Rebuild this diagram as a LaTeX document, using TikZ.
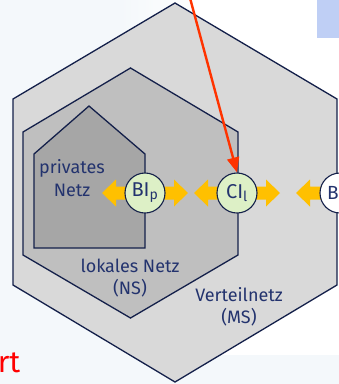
\documentclass[tikz,border=0pt]{standalone}
\usepackage{fontspec}
\setmainfont{Fira Sans}
\usetikzlibrary{arrows.meta}
\definecolor{navy}{HTML}{14204A}
\definecolor{txtblue}{HTML}{23336E}
\definecolor{hexout}{HTML}{D9D9D9}
\definecolor{hexmid}{HTML}{BFBFBF}
\definecolor{housec}{HTML}{A6A6A6}
\definecolor{ygold}{HTML}{FFC000}
\definecolor{lgreen}{HTML}{DDF0C6}
\definecolor{bgblue}{HTML}{F4F8FB}
\definecolor{boxblue}{HTML}{BFCFF5}
\definecolor{redarr}{HTML}{FF3300}
\tikzset{
  zone/.style={draw=navy, line width=1.3pt, line join=miter},
  ifnode/.style={circle, draw=navy, line width=1.1pt, minimum size=40pt, inner sep=0pt, fill=lgreen, font=\fontsize{20}{20}\selectfont, text=txtblue},
  lbl/.style={align=center, text=txtblue, font=\fontsize{18}{22.5}\selectfont},
  yarr/.style={fill=ygold, draw=none},
}
\begin{document}
\begin{tikzpicture}[x=1pt,y=-1pt]
\useasboundingbox (0,0) rectangle (339,384);
\clip (0,0) rectangle (339,384);
% background
\fill[bgblue] (0,0) rectangle (339,384);
\shade[left color=bgblue, right color=white] (120,0) rectangle (200,355);
\fill[white] (200,0) rectangle (339,355);
\fill[boxblue] (317,0) rectangle (339,38);
% zones
\path[zone, fill=hexout] (175,3) -- (337,99) -- (337,285) -- (175,382) -- (13,285) -- (13,99) -- cycle;
\path[zone, fill=hexmid] (130.5,68) -- (238,132) -- (238,255) -- (130.5,318) -- (23,255) -- (23,132) -- cycle;
\path[zone, fill=housec] (89,106) -- (145,154) -- (145,248) -- (34,248) -- (34,154) -- cycle;
% yellow double arrows
\foreach \c/\L in {145/43, 237/43, 340/44}{
  \begin{scope}[shift={(\c,193)}]
    \fill[yarr] (-\L,0) -- (-\L+14,-13.5) -- (-\L+14,-6.5) -- (\L-14,-6.5) -- (\L-14,-13.5) -- (\L,0)
      -- (\L-14,13.5) -- (\L-14,6.5) -- (-\L+14,6.5) -- (-\L+14,13.5) -- cycle;
  \end{scope}
}
% interface nodes
\node[ifnode] (bip) at (145,193) {BI\textsubscript{p}};
\node[ifnode] (cil) at (237,193) {CI\textsubscript{l}};
\node[ifnode, fill=white] (bir) at (340,193) {};
\node[anchor=west, inner sep=0pt, text=txtblue, font=\fontsize{19}{19}\selectfont] (bt) at (327,193) {B};
% labels
\node[lbl] (priv) at (72,178) {privates\\Netz};
\node[lbl] (lok) at (130,278) {lokales Netz\\(NS)};
\node[lbl] (vert) at (239,307) {Verteilnetz\\(MS)};
\node[anchor=base east, inner sep=0pt, text=red, font=\fontsize{30}{30}\selectfont] (rt) at (20.5,372) {rt};
% red arrow
\coordinate (rstart) at (190,-2);
\draw[redarr, line width=2.4pt, -{Triangle[length=15pt,width=12pt]}] (rstart) -- (cil.north);
\end{tikzpicture}
\end{document}
